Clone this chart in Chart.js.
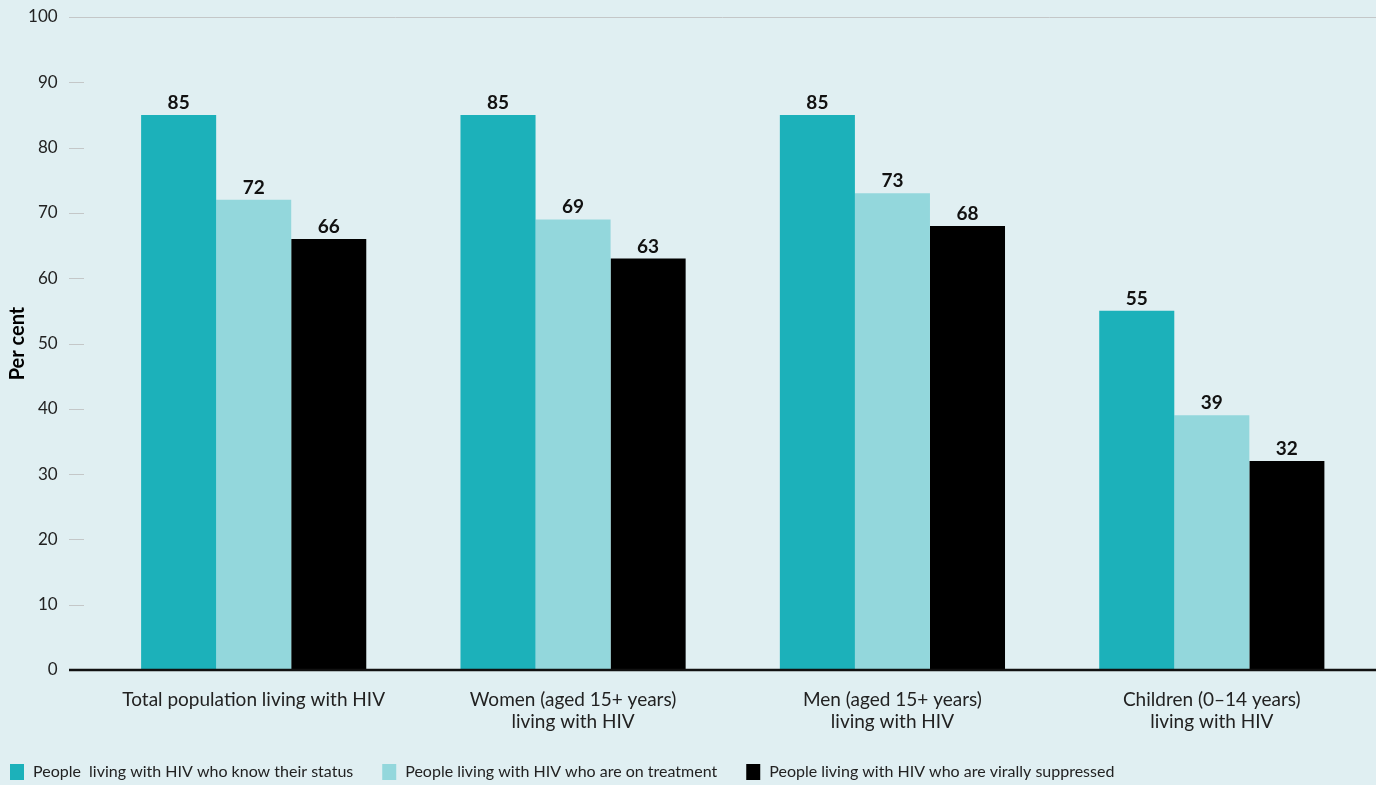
<!DOCTYPE html>
<html>
<head>
<meta charset="utf-8">
<script src="https://cdn.jsdelivr.net/npm/chart.js@4/dist/chart.umd.min.js"></script>
<style>
  html, body { margin: 0; padding: 0; background: #e0eff2; }
  canvas { display: block; }
</style>
</head>
<body>
<canvas id="c" width="1376" height="785"></canvas>
<script>
const categories = [
  'Total population living with HIV',
  ['Women (aged 15+ years)', 'living with HIV'],
  ['Men (aged 15+ years)', 'living with HIV'],
  ['Children (0\u201314 years)', 'living with HIV']
];
const seriesNames = [
  'People  living with HIV who know their status',
  'People living with HIV who are on treatment',
  'People living with HIV who are virally suppressed'
];
const knowStatus = [85, 85, 85, 55];
const onTreatment = [72, 69, 73, 39];
const virallySuppressed = [66, 63, 68, 32];
const yTicks = [0, 10, 20, 30, 40, 50, 60, 70, 80, 90, 100];
const colors = ['#1cb1ba', '#93d7dc', '#000000'];

const FONT = 'Lato, "Noto Sans", sans-serif';

const decorPlugin = {
  id: 'decor',
  beforeDatasetsDraw(chart) {
    const ctx = chart.ctx;
    const y = chart.scales.y;
    const W = chart.width;
    ctx.save();
    ctx.strokeStyle = '#c4c7c8';
    ctx.lineWidth = 1;
    const yTop = Math.round(y.getPixelForValue(100)) + 0.5;
    ctx.beginPath(); ctx.moveTo(69, yTop); ctx.lineTo(W, yTop); ctx.stroke();
    yTicks.forEach(v => {
      if (v === 0 || v === 100) return;
      const py = Math.round(y.getPixelForValue(v)) + 0.5;
      ctx.beginPath(); ctx.moveTo(69, py); ctx.lineTo(84, py); ctx.stroke();
    });
    ctx.restore();
  },
  afterDatasetsDraw(chart) {
    const ctx = chart.ctx;
    const y = chart.scales.y;
    const W = chart.width;
    ctx.save();
    ctx.strokeStyle = '#111';
    ctx.lineWidth = 2.5;
    const y0 = y.getPixelForValue(0);
    ctx.beginPath(); ctx.moveTo(69, y0); ctx.lineTo(W, y0); ctx.stroke();
    ctx.fillStyle = '#111';
    ctx.font = 'bold 19px ' + FONT;
    ctx.textAlign = 'center';
    ctx.textBaseline = 'alphabetic';
    chart.data.datasets.forEach((ds, di) => {
      chart.getDatasetMeta(di).data.forEach((bar, i) => {
        ctx.fillText(String(ds.data[i]), bar.x, bar.y - 6);
      });
    });
    ctx.font = '16px ' + FONT;
    ctx.textBaseline = 'middle';
    ctx.textAlign = 'left';
    let x = 10;
    const ly = 772;
    chart.data.datasets.forEach((ds) => {
      ctx.fillStyle = ds.backgroundColor;
      ctx.fillRect(x, ly - 8, 14, 16);
      ctx.fillStyle = '#222';
      ctx.fillText(ds.label, x + 23, ly);
      x += 23 + ctx.measureText(ds.label).width + 29;
    });
    ctx.restore();
  }
};

new Chart(document.getElementById('c'), {
  type: 'bar',
  data: {
    labels: categories,
    datasets: [
      { label: seriesNames[0], data: knowStatus, backgroundColor: colors[0] },
      { label: seriesNames[1], data: onTreatment, backgroundColor: colors[1] },
      { label: seriesNames[2], data: virallySuppressed, backgroundColor: colors[2] }
    ]
  },
  options: {
    responsive: false,
    animation: false,
    devicePixelRatio: 1,
    layout: { padding: { top: 17, right: 4.5, bottom: 0, left: 0 } },
    datasets: { bar: { categoryPercentage: 0.705, barPercentage: 1.0, borderWidth: 0 } },
    plugins: {
      legend: { display: false },
      tooltip: { enabled: false }
    },
    scales: {
      x: {
        grid: { display: false, drawTicks: false },
        border: { display: false },
        ticks: {
          color: '#222',
          font: { family: FONT, size: 19, lineHeight: 1.2 },
          padding: 18,
          maxRotation: 0,
          autoSkip: false
        },
        afterFit(scale) {
          scale.height = 115;
          scale.paddingLeft = 0; scale.paddingRight = 0;
          scale.paddingTop = 0; scale.paddingBottom = 0;
        }
      },
      y: {
        min: 0, max: 100,
        afterBuildTicks(scale) { scale.ticks = yTicks.map(v => ({ value: v })); },
        grid: { display: false, drawTicks: false },
        border: { display: false },
        ticks: {
          color: '#222',
          font: { family: FONT, size: 17 },
          padding: 36.3
        },
        title: {
          display: true,
          text: 'Per cent',
          color: '#000',
          font: { family: FONT, size: 20, weight: 'bold' },
          padding: { top: 6, bottom: 0 }
        },
        afterFit(scale) {
          scale.width = 94;
          scale.paddingTop = 0; scale.paddingBottom = 0;
          scale.paddingLeft = 0; scale.paddingRight = 0;
        }
      }
    }
  },
  plugins: [decorPlugin]
});
</script>
</body>
</html>
